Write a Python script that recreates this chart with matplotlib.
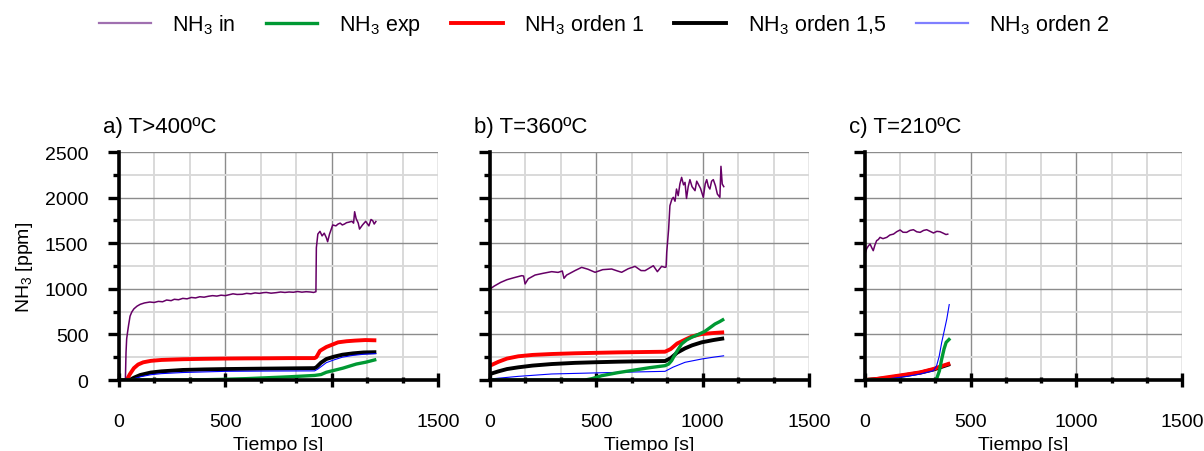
import matplotlib
matplotlib.use("Agg")
import matplotlib.pyplot as plt
from matplotlib.lines import Line2D
from matplotlib.ticker import MultipleLocator

plt.rcParams['font.family'] = ['Liberation Sans', 'DejaVu Sans']
plt.rcParams['mathtext.fontset'] = 'custom'
plt.rcParams['mathtext.rm'] = 'Liberation Sans'
plt.rcParams['mathtext.default'] = 'regular'

# ---- a) T>400ºC ----
a_in_t = [0, 30, 33, 36, 40, 45, 52, 60, 70, 85, 100, 120, 145, 165, 185, 205, 224, 245, 260,
          280, 300, 320, 340, 360, 380, 400, 420, 440, 460, 480, 500, 518, 536, 555, 580, 600,
          620, 640, 660, 680, 693, 715, 740, 760, 780, 800, 820, 840, 860, 880, 900, 915, 926,
          928, 935, 945, 955, 965, 975, 981, 990, 1005, 1020, 1030, 1040, 1050, 1060, 1070,
          1080, 1095, 1103, 1108, 1115, 1125, 1131, 1145, 1160, 1175, 1185, 1193, 1200, 1210]
a_in_v = [0, 0, 300, 450, 520, 600, 700, 745, 780, 810, 830, 845, 855, 850, 862, 858, 877, 870, 885,
          880, 895, 890, 905, 900, 913, 908, 918, 925, 920, 930, 925, 935, 945, 938, 940, 950,
          945, 955, 950, 958, 960, 952, 958, 965, 960, 965, 962, 970, 963, 968, 965, 960, 968,
          1450, 1600, 1630, 1580, 1610, 1560, 1516, 1600, 1700, 1690, 1710, 1720, 1700, 1710, 1725,
          1730, 1740, 1720, 1845, 1770, 1720, 1655, 1700, 1740, 1690, 1760, 1747, 1710, 1745]

a_o1_t = [0, 36, 50, 70, 90, 114, 150, 200, 300, 400, 500, 600, 700, 800, 920, 928, 945, 975,
          1000, 1030, 1070, 1110, 1158, 1210]
a_o1_v = [0, 0, 60, 130, 170, 194, 210, 220, 228, 232, 235, 237, 238, 240, 240, 250, 320, 362,
          385, 413, 425, 432, 438, 435]
a_o15_t = [0, 50, 70, 100, 150, 200, 300, 400, 500, 700, 920, 928, 950, 975, 1010, 1050, 1100, 1150, 1210]
a_o15_v = [0, 0, 25, 55, 82, 95, 110, 116, 120, 125, 130, 140, 190, 230, 255, 277, 292, 302, 305]
a_o2_t = [0, 50, 100, 150, 200, 300, 500, 700, 920, 935, 975, 1010, 1050, 1100, 1150, 1210]
a_o2_v = [0, 0, 35, 58, 70, 82, 95, 98, 100, 120, 190, 220, 250, 270, 282, 290]
a_exp_t = [0, 300, 400, 500, 600, 700, 800, 920, 950, 975, 1010, 1053, 1116, 1160, 1210]
a_exp_v = [0, 0, 3, 8, 15, 25, 35, 50, 60, 85, 105, 130, 175, 195, 225]

# ---- b) T=360ºC ----
b_in_t = [0, 20, 50, 80, 110, 149, 158, 165, 180, 212, 250, 290, 320, 340, 348, 360, 400, 431,
          460, 494, 530, 572, 600, 619, 650, 682, 710, 729, 768, 787, 807, 823, 828, 831, 840,
          846, 855, 862, 870, 877, 885, 893, 901, 910, 917, 924, 932, 940, 950, 964, 972, 979,
          990, 1003, 1012, 1019, 1027, 1034, 1042, 1050, 1060, 1069, 1081, 1086, 1092, 1101]
b_in_v = [998, 1030, 1070, 1100, 1120, 1144, 1140, 1053, 1110, 1151, 1170, 1188, 1180, 1195, 1115,
          1150, 1200, 1235, 1215, 1181, 1210, 1217, 1195, 1181, 1220, 1246, 1200, 1199, 1253, 1188,
          1246, 1235, 1240, 1400, 1656, 1911, 1980, 2003, 1960, 2094, 2021, 2150, 2222, 2140, 2167,
          1991, 2120, 2197, 2120, 2076, 2180, 2149, 2100, 2003, 2150, 2197, 2120, 2094, 2180, 2197,
          2130, 2039, 2003, 2343, 2149, 2113]

b_o1_t = [0, 40, 80, 133, 200, 290, 400, 500, 603, 700, 823, 850, 880, 917, 950, 995, 1050, 1101]
b_o1_v = [157, 200, 235, 260, 275, 285, 293, 298, 303, 306, 310, 340, 400, 442, 478, 504, 515, 523]
b_o15_t = [0, 40, 80, 133, 200, 290, 400, 500, 603, 700, 823, 850, 880, 917, 950, 995, 1050, 1101]
b_o15_v = [66, 95, 120, 139, 158, 175, 188, 195, 201, 205, 208, 240, 300, 347, 380, 413, 438, 457]
b_o2_t = [0, 133, 290, 603, 823, 860, 917, 995, 1050, 1101]
b_o2_v = [11, 40, 66, 84, 95, 140, 194, 230, 250, 266]
b_exp_t = [0, 447, 480, 525, 600, 682, 750, 823, 840, 854, 875, 901, 925, 948, 980, 1011, 1035,
           1058, 1080, 1101]
b_exp_v = [0, 0, 15, 47, 80, 110, 135, 157, 175, 212, 300, 395, 440, 468, 500, 534, 575, 614, 640, 669]

# ---- c) T=210ºC ----
c_in_t = [0, 8, 16, 24, 32, 39, 47, 55, 63, 71, 85, 103, 118, 135, 150, 166, 180, 197, 213, 229,
          245, 261, 277, 292, 308, 324, 340, 355, 370, 383, 395]
c_in_v = [1382, 1440, 1470, 1491, 1450, 1418, 1480, 1528, 1540, 1564, 1550, 1564, 1590, 1600, 1626,
          1645, 1620, 1619, 1640, 1648, 1625, 1619, 1640, 1648, 1630, 1612, 1630, 1626, 1610, 1595, 1601]
c_o1_t = [0, 50, 103, 180, 261, 324, 360, 403]
c_o1_v = [0, 10, 29, 55, 84, 121, 150, 183]
c_o15_t = [0, 103, 261, 324, 345, 370, 403]
c_o15_v = [0, 20, 80, 115, 130, 150, 175]
c_o2_t = [0, 103, 200, 261, 324, 339, 351, 363, 375, 387, 399]
c_o2_v = [0, 11, 40, 66, 102, 157, 260, 413, 540, 669, 833]
c_exp_t = [0, 331, 340, 352, 363, 374, 384, 403]
c_exp_v = [0, 0, 20, 100, 230, 340, 413, 457]

panels = [
    ("a) T>400ºC", (a_in_t, a_in_v), (a_exp_t, a_exp_v), (a_o1_t, a_o1_v), (a_o15_t, a_o15_v), (a_o2_t, a_o2_v)),
    ("b) T=360ºC", (b_in_t, b_in_v), (b_exp_t, b_exp_v), (b_o1_t, b_o1_v), (b_o15_t, b_o15_v), (b_o2_t, b_o2_v)),
    ("c) T=210ºC", (c_in_t, c_in_v), (c_exp_t, c_exp_v), (c_o1_t, c_o1_v), (c_o15_t, c_o15_v), (c_o2_t, c_o2_v)),
]

names = ["NH$_3$ in", "NH$_3$ exp", "NH$_3$ orden 1", "NH$_3$ orden 1,5", "NH$_3$ orden 2"]
colors = ["#660066", "#009933", "#ff0000", "#000000", "#0000ff"]
widths = [1.1, 2.4, 2.8, 2.8, 0.8]
zorders = [6, 5, 3.5, 3, 4]

fig = plt.figure(figsize=(12.04, 4.52), dpi=100)
W, H = 1204, 452
boxes = [(119, 438), (490, 809), (865, 1182)]
top_px, bot_px = 153, 381

for i, (title, *series) in enumerate(panels):
    x0, x1 = boxes[i]
    ax = fig.add_axes([x0 / W, 1 - bot_px / H, (x1 - x0) / W, (bot_px - top_px) / H])
    for (t, v), c, lw, z in zip(series, colors, widths, zorders):
        ax.plot(t, v, color=c, lw=lw, zorder=z, solid_capstyle='butt')

    ax.set_xlim(0, 1500)
    ax.set_ylim(0, 2500)
    ax.xaxis.set_major_locator(MultipleLocator(500))
    ax.xaxis.set_minor_locator(MultipleLocator(500 / 3))
    ax.yaxis.set_major_locator(MultipleLocator(500))
    ax.yaxis.set_minor_locator(MultipleLocator(250))

    ax.grid(which='major', color='#8c8c8c', lw=1.0, zorder=0)
    ax.grid(which='minor', color='#d9d9d9', lw=1.4, zorder=0)
    ax.set_axisbelow(True)

    for s in ('top', 'right'):
        ax.spines[s].set_visible(False)
    for s in ('left', 'bottom'):
        ax.spines[s].set_linewidth(2.6)
        ax.spines[s].set_zorder(7)

    ax.tick_params(axis='x', which='major', direction='inout', length=10, width=2.4, pad=19, labelsize=14)
    ax.tick_params(axis='x', which='minor', direction='inout', length=5, width=2.4)
    ax.tick_params(axis='y', which='major', direction='out', length=8, width=2.4, pad=14, labelsize=14)
    ax.tick_params(axis='y', which='minor', direction='out', length=4, width=2.4)

    if i > 0:
        ax.tick_params(axis='y', labelleft=False)
    else:
        ax.set_ylabel("NH$_3$ [ppm]", fontsize=14, labelpad=7)

    ax.set_xlabel("Tiempo [s]", fontsize=14, labelpad=4)
    fig.text((x0 - 16) / W, 1 - 128 / H, title, fontsize=16, ha='left', va='center')

legend_colors = ["#a070b0", "#009933", "#ff0000", "#000000", "#7f7fff"]
legend_widths = [1.6, 2.4, 2.8, 2.8, 1.6]
handles = [Line2D([], [], color=c, lw=lw) for c, lw in zip(legend_colors, legend_widths)]
fig.legend(handles, names, loc='center', bbox_to_anchor=(604 / W, 1 - 26 / H), ncol=5,
           frameon=False, fontsize=15.5, handlelength=2.4, handletextpad=1.0, columnspacing=1.4)

fig.savefig("out.png", dpi=100)
